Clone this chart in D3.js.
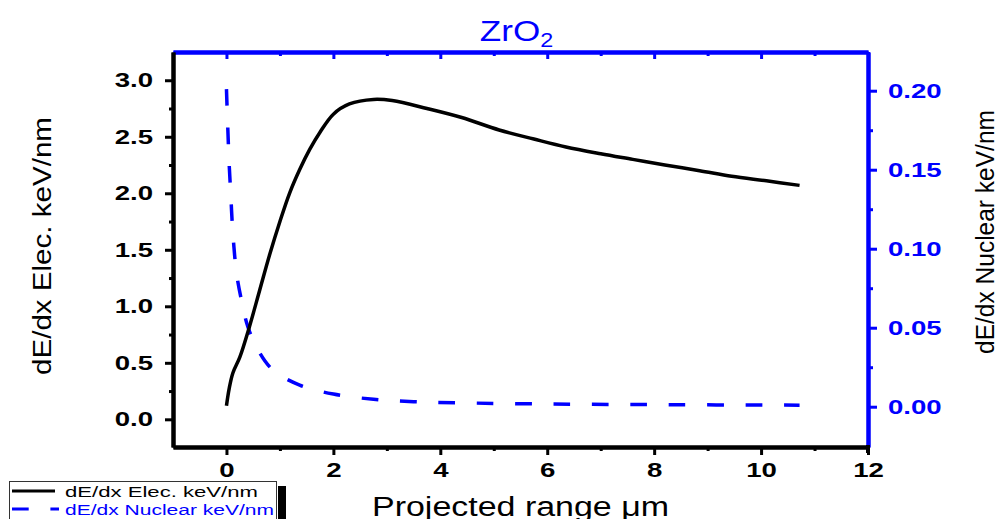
<!DOCTYPE html>
<html>
<head>
<meta charset="utf-8">
<script src="https://cdn.jsdelivr.net/npm/d3@7"></script>
<style>
  body { margin: 0; background: #fff; }
  svg { display: block; font-family: "Liberation Sans", Arial, sans-serif; }
  .tick-label { font-weight: bold; font-size: 20px; }
</style>
</head>
<body>
<svg id="chart"></svg>
<script>
// Electronic stopping (left axis)
const elecRange = [0, 0.05, 0.12, 0.25, 0.43, 0.62, 0.81, 1.0, 1.18, 1.37, 1.56, 1.75, 2.0, 2.3,
  2.75, 3.1, 3.75, 4.4, 5.1, 5.75, 6.35, 7.0, 7.6, 8.2, 8.85, 9.45, 10.1, 10.72];
const elecDedx = [0.12, 0.27, 0.41, 0.55, 0.82, 1.14, 1.46, 1.75, 2.0, 2.21, 2.39, 2.54, 2.70, 2.79,
  2.83, 2.82, 2.75, 2.67, 2.56, 2.48, 2.41, 2.35, 2.30, 2.25, 2.20, 2.15, 2.11, 2.07];

// Nuclear stopping (right axis)
const nucRange = [0, 0.05, 0.08, 0.105, 0.14, 0.19, 0.28, 0.40, 0.59, 0.87, 1.37, 2.0, 2.75, 3.5,
  4.3, 6.0, 8.0, 10.72];
const nucDedx = [0.201, 0.154, 0.135, 0.118, 0.101, 0.084, 0.0675, 0.0506, 0.0359, 0.0232, 0.0137,
  0.0080, 0.0047, 0.0032, 0.0025, 0.0017, 0.0013, 0.0010];

// Ticks
const xTicks = [0, 2, 4, 6, 8, 10, 12];
const xMinorTicks = [1, 3, 5, 7, 9, 11];
const leftTicks = [0, 0.5, 1.0, 1.5, 2.0, 2.5, 3.0];
const leftMinorTicks = [0.25, 0.75, 1.25, 1.75, 2.25, 2.75];
const rightTicks = [0, 0.05, 0.10, 0.15, 0.20];
const rightMinorTicks = [0.025, 0.075, 0.125, 0.175];

const titleText = "ZrO";
const titleSub = "2";
const xTitle = "Projected range \u03bcm";
const leftTitle = "dE/dx Elec. keV/nm";
const rightTitle = "dE/dx Nuclear keV/nm";
const legendNames = ["dE/dx Elec. keV/nm", "dE/dx Nuclear keV/nm"];

const BLUE = "#0000ff";

class StoppingChart {
  constructor(_config) {
    this.config = {
      parentElement: _config.parentElement,
      containerWidth: _config.containerWidth || 1001,
      containerHeight: _config.containerHeight || 519,
      margin: _config.margin || { top: 52, right: 133, bottom: 72, left: 173 },
    };
    this.initVis();
  }

  initVis() {
    let vis = this;
    vis.width = vis.config.containerWidth - vis.config.margin.left - vis.config.margin.right;
    vis.height = vis.config.containerHeight - vis.config.margin.top - vis.config.margin.bottom;

    vis.xScale = d3.scaleLinear().domain([-1, 12]).range([0, vis.width]);
    vis.yLeft = d3.scaleLinear().domain([-0.245, 3.25]).range([vis.height, 0]);
    vis.yRight = d3.scaleLinear().domain([-0.0255, 0.2245]).range([vis.height, 0]);

    vis.svg = d3.select(vis.config.parentElement)
      .attr("width", vis.config.containerWidth)
      .attr("height", vis.config.containerHeight);

    vis.chart = vis.svg.append("g")
      .attr("transform", `translate(${vis.config.margin.left},${vis.config.margin.top})`);
  }

  // draws minor ticks first, then major ticks with labels
  drawAxis(g, axisFn, scale, major, minor, majorSize, minorSize, color, labels) {
    g.append("g").attr("class", "minor")
      .call(axisFn(scale).tickValues(minor).tickSizeInner(minorSize).tickSizeOuter(0).tickFormat(""));
    const m = g.append("g").attr("class", "major")
      .call(axisFn(scale).tickValues(major).tickSizeInner(majorSize).tickSizeOuter(0)
        .tickFormat(labels || ""));
    g.selectAll("path.domain").attr("stroke", color).attr("stroke-width", 4);
    g.selectAll(".tick line").attr("stroke", color).attr("stroke-width", 3);
    g.selectAll(".tick text").attr("fill", color).attr("class", "tick-label")
      .attr("font-family", null).attr("font-size", null);
    return m;
  }

  renderVis() {
    let vis = this;
    const sx = 1.38; // tick labels are drawn wide in the reference

    // top axis (blue, ticks inward)
    const top = vis.chart.append("g");
    vis.drawAxis(top, d3.axisTop, vis.xScale, xTicks, xMinorTicks, -7, -4, BLUE);

    // right axis (blue)
    const right = vis.chart.append("g").attr("transform", `translate(${vis.width},0)`);
    const rm = vis.drawAxis(right, d3.axisRight, vis.yRight, rightTicks, rightMinorTicks, 9, 5, BLUE,
      d3.format(".2f"));
    rm.selectAll(".tick text").attr("x", 20 / sx).attr("transform", `scale(${sx},1)`);

    // left axis (black)
    const left = vis.chart.append("g");
    const lm = vis.drawAxis(left, d3.axisLeft, vis.yLeft, leftTicks, leftMinorTicks, 8, 4, "#000",
      d3.format(".1f"));
    lm.selectAll(".tick text").attr("x", -20 / sx).attr("transform", `scale(${sx},1)`);

    // bottom axis (black)
    const bottom = vis.chart.append("g").attr("transform", `translate(0,${vis.height})`);
    const bm = vis.drawAxis(bottom, d3.axisBottom, vis.xScale, xTicks, xMinorTicks, 8, 4, "#000",
      d3.format("d"));
    bm.selectAll(".tick text").attr("y", 16).attr("transform", `scale(${sx},1)`);
    // corner where bottom meets the right axis
    bottom.append("rect").attr("x", vis.width - 2).attr("y", -2).attr("width", 4).attr("height", 8)
      .attr("fill", "#000");

    // curves
    const elecLine = d3.line()
      .x((d, i) => vis.xScale(elecRange[i]))
      .y((d) => vis.yLeft(d))
      .curve(d3.curveCatmullRom.alpha(0.5));
    const nucLine = d3.line()
      .x((d, i) => vis.xScale(nucRange[i]))
      .y((d) => vis.yRight(d))
      .curve(d3.curveCatmullRom.alpha(0.5));

    vis.chart.append("path")
      .attr("d", nucLine(nucDedx))
      .attr("fill", "none")
      .attr("stroke", BLUE)
      .attr("stroke-width", 3.5)
      .attr("stroke-dasharray", "16.7 21.7");

    vis.chart.append("path")
      .attr("d", elecLine(elecDedx))
      .attr("fill", "none")
      .attr("stroke", "#000")
      .attr("stroke-width", 3.5);

    // title
    const cx = vis.config.margin.left + vis.width / 2;
    const title = vis.svg.append("g").attr("transform", `translate(${cx - 4},41) scale(1.17,1)`)
      .append("text")
      .attr("text-anchor", "middle")
      .attr("fill", BLUE)
      .attr("font-size", 30);
    title.append("tspan").text(titleText);
    title.append("tspan").attr("font-size", 20).attr("dy", 6).text(titleSub);

    // axis titles
    vis.svg.append("text")
      .attr("x", cx).attr("y", 516)
      .attr("text-anchor", "middle")
      .attr("font-size", 27)
      .attr("textLength", 297).attr("lengthAdjust", "spacingAndGlyphs")
      .text(xTitle);

    vis.svg.append("text")
      .attr("transform", "translate(42,246) rotate(-90)")
      .attr("text-anchor", "middle").attr("dy", "0.35em")
      .attr("font-size", 26)
      .attr("textLength", 258).attr("lengthAdjust", "spacingAndGlyphs")
      .text(leftTitle);

    vis.svg.append("text")
      .attr("transform", "translate(985,232) rotate(-90)")
      .attr("text-anchor", "middle").attr("dy", "0.35em")
      .attr("font-size", 26)
      .attr("textLength", 244).attr("lengthAdjust", "spacingAndGlyphs")
      .text(rightTitle);

    // legend
    const lg = vis.svg.append("g");
    lg.append("rect").attr("x", 278).attr("y", 486).attr("width", 8).attr("height", 40).attr("fill", "#000");
    lg.append("rect").attr("x", 9.5).attr("y", 481.5).attr("width", 267).attr("height", 45)
      .attr("fill", "#fff").attr("stroke", "#333").attr("stroke-width", 1);
    lg.append("line").attr("x1", 12).attr("x2", 55).attr("y1", 491).attr("y2", 491)
      .attr("stroke", "#000").attr("stroke-width", 3);
    lg.append("line").attr("x1", 12).attr("x2", 59).attr("y1", 509).attr("y2", 509)
      .attr("stroke", BLUE).attr("stroke-width", 3).attr("stroke-dasharray", "16.7 21.7");
    lg.append("text").attr("x", 65).attr("y", 497).attr("font-size", 14)
      .attr("textLength", 193).attr("lengthAdjust", "spacingAndGlyphs")
      .text(legendNames[0]);
    lg.append("text").attr("x", 65).attr("y", 515).attr("font-size", 14).attr("fill", BLUE)
      .attr("textLength", 209).attr("lengthAdjust", "spacingAndGlyphs")
      .text(legendNames[1]);
  }
}

const chart = new StoppingChart({ parentElement: "#chart" });
chart.renderVis();
</script>
</body>
</html>
